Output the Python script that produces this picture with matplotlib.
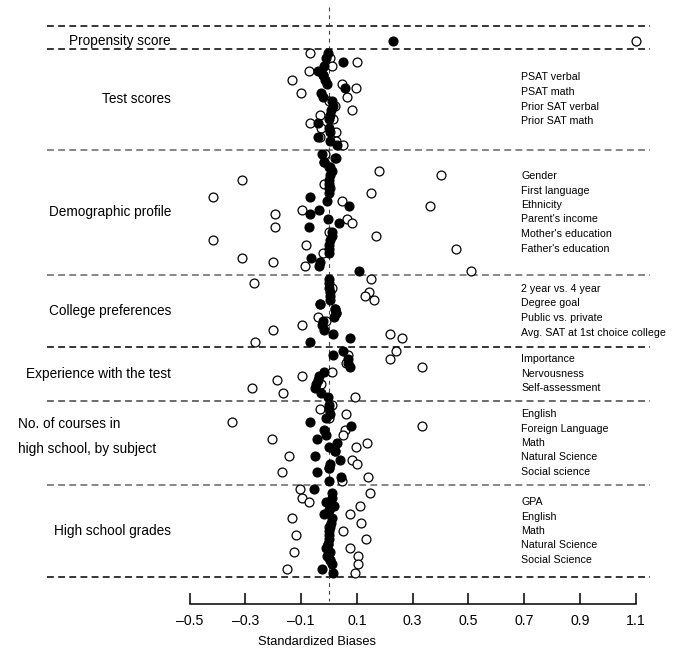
import matplotlib
matplotlib.use('Agg')
import matplotlib.pyplot as plt
import numpy as np

# group names (left) and covariates (right)
groups = ['Propensity score', 'Test scores', 'Demographic profile', 'College preferences',
          'Experience with the test', 'No. of courses in\nhigh school, by subject',
          'High school grades']
covariates = [
    [],
    ['PSAT verbal', 'PSAT math', 'Prior SAT verbal', 'Prior SAT math'],
    ['Gender', 'First language', 'Ethnicity', "Parent's income", "Mother's education",
     "Father's education"],
    ['2 year vs. 4 year', 'Degree goal', 'Public vs. private', 'Avg. SAT at 1st choice college'],
    ['Importance', 'Nervousness', 'Self-assessment'],
    ['English', 'Foreign Language', 'Math', 'Natural Science', 'Social science'],
    ['GPA', 'English', 'Math', 'Natural Science', 'Social Science'],
]

# standardized biases, one row per entry (filled = black dots, open = hollow dots)
propensity_filled = [0.23]
propensity_open = [1.10]

test_filled = [-0.004, -0.010, 0.050, -0.016, -0.040, -0.020, -0.015, -0.007, 0.056, -0.027, -0.020,
               0.010, 0.014, 0.008, 0.002, 0.000, -0.040, 0.000, 0.002, -0.040, 0.002, 0.030]
test_open = [-0.069, 0.002, 0.100, 0.012, -0.072, -0.020, -0.133, 0.047, 0.098, -0.100, 0.065,
             0.000, 0.020, 0.081, -0.031, 0.014, -0.069, -0.030, 0.026, -0.031, 0.026, 0.050]

demo_filled = [-0.024, 0.026, -0.019, 0.005, 0.012, 0.002, 0.000, 0.000, 0.000, 0.000, -0.069, -0.007,
               0.072, -0.036, -0.067, -0.004, 0.036, -0.072, 0.010, 0.010, 0.002, 0.000, 0.000, 0.000,
               -0.063, -0.031, -0.036, 0.108]
demo_open = [-0.015, 0.020, -0.018, 0.000, 0.179, 0.403, -0.310, -0.016, 0.005, 0.150, -0.416, 0.047,
             0.361, -0.098, -0.194, 0.066, 0.081, -0.195, 0.000, 0.169, -0.416, -0.081, 0.454, -0.020,
             -0.313, -0.200, -0.086, 0.510]

college_filled = [0.000, 0.000, 0.000, 0.002, 0.002, 0.005, -0.031, 0.020, 0.024, 0.017, -0.020,
                  -0.024, -0.016, 0.014, 0.074, -0.069]
college_open = [0.149, -0.270, 0.010, 0.142, 0.131, 0.160, -0.031, 0.020, 0.024, -0.039, -0.010,
                -0.098, -0.200, 0.220, 0.263, -0.265]

exper_filled = [0.050, 0.014, 0.068, 0.070, 0.077, -0.016, -0.036, -0.040, -0.045, -0.050, -0.030, -0.005]
exper_open = [0.239, 0.070, 0.220, 0.060, 0.333, 0.010, -0.098, -0.185, -0.030, -0.277, -0.163, 0.092]

courses_filled = [0.000, 0.000, 0.002, -0.010, -0.069, 0.078, -0.016, -0.010, -0.042, 0.029, 0.000,
                  0.020, -0.049, 0.041, 0.005, 0.000, -0.042, 0.043, 0.000]
courses_open = [0.010, -0.033, 0.062, 0.000, -0.347, 0.335, 0.059, 0.050, -0.204, 0.136, 0.098,
                0.020, -0.145, 0.084, 0.100, 0.000, -0.170, 0.140, 0.048]

grades_filled = [-0.055, 0.012, 0.010, -0.010, 0.018, 0.000, -0.018, 0.012, 0.008, 0.002, 0.000,
                 0.000, 0.000, -0.005, -0.010, 0.002, -0.007, 0.005, 0.012, -0.026, 0.014]
grades_open = [-0.103, 0.146, -0.096, -0.073, 0.110, 0.000, 0.076, -0.134, 0.115, 0.000, 0.051,
               -0.118, 0.134, -0.005, 0.075, -0.127, 0.105, 0.005, 0.103, -0.151, 0.092]

filled = [propensity_filled, test_filled, demo_filled, college_filled, exper_filled,
          courses_filled, grades_filled]
hollow = [propensity_open, test_open, demo_open, college_open, exper_open,
          courses_open, grades_open]

xticks = [-0.5, -0.3, -0.1, 0.1, 0.3, 0.5, 0.7, 0.9, 1.1]

# layout (figure pixels, y downwards)
W, H = 684, 661
bounds = [26, 49, 149.5, 275, 346.5, 401, 485, 577]
x0_px, px_per_unit = 189.5, 278.9

plt.rcParams['font.family'] = ['Liberation Sans', 'DejaVu Sans']

fig = plt.figure(figsize=(W / 100, H / 100), dpi=100)
ax = fig.add_axes([0, 0, 1, 1])
ax.set_xlim(-0.5 - x0_px / px_per_unit, -0.5 + (W - x0_px) / px_per_unit)
ax.set_ylim(H, 0)

def px2x(p):
    return -0.5 + (p - x0_px) / px_per_unit

# horizontal separators
sep_colors = ['black', 'black', '#666666', '#666666', 'black', '#444444', '#666666', 'black']
for b, c in zip(bounds, sep_colors):
    ax.plot([px2x(47), px2x(650)], [b, b], color=c, lw=1.1, dashes=(4.5, 2.8))

# zero line
ax.plot([0, 0], [7, 601], color='#444444', lw=0.8, dashes=(3.5, 3.5))

pad = 4.2
for i in range(len(groups)):
    top, bot = bounds[i], bounds[i + 1]
    n = len(filled[i])
    if n == 1:
        ys = np.array([top + 14.5])
    else:
        ys = np.linspace(top + pad, bot - pad, n)
    ax.plot(hollow[i], ys, 'o', ms=6.4, mfc='white', mec='black', mew=0.9, ls='none')
    ax.plot(filled[i], ys, 'o', ms=6.4, mfc='black', mec='black', mew=0.9, ls='none')

    mid = (top + bot) / 2
    ty = ys[0] if n == 1 else mid
    if '\n' in groups[i]:
        ax.text(px2x(18), mid - 6, groups[i], ha='left', va='center', fontsize=9.8,
                linespacing=2.0)
    else:
        ax.text(px2x(171), ty, groups[i], ha='right', va='center', fontsize=9.8)

    labs = covariates[i]
    for j, lab in enumerate(labs):
        ly = mid + (j - (len(labs) - 1) / 2) * 14.5
        ax.text(px2x(521), ly, lab, ha='left', va='center', fontsize=7.7)

# x axis
for s in ['top', 'left', 'right']:
    ax.spines[s].set_visible(False)
ax.spines['bottom'].set_position(('data', 604))
ax.spines['bottom'].set_bounds(-0.5, 1.1)
ax.spines['bottom'].set_linewidth(1.1)
ax.set_xticks(xticks)
ax.set_xticklabels([('\u2013%.1f' % abs(t)) if t < 0 else '%.1f' % t for t in xticks])
ax.tick_params(axis='x', direction='in', length=8, width=1.1, pad=7, labelsize=10.2)
ax.set_yticks([])
ax.text(px2x(258), 642, 'Standardized Biases', ha='left', va='center', fontsize=9.3)

fig.savefig('out.png', dpi=100)
